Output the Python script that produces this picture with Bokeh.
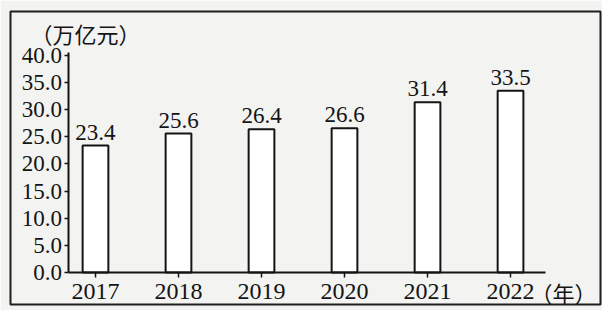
from bokeh.plotting import figure
from bokeh.models import FixedTicker, Label, Range1d, ColumnDataSource, NumeralTickFormatter
from bokeh.core.properties import value
from bokeh.embed import file_html
from bokeh.resources import INLINE

years = ["2017", "2018", "2019", "2020", "2021", "2022"]
amounts = [23.4, 25.6, 26.4, 26.6, 31.4, 33.5]
y_ticks = [0, 5, 10, 15, 20, 25, 30, 35, 40]

pos = list(range(len(years)))
src = ColumnDataSource(dict(x=pos, top=amounts, lab=[f"{v:.1f}" for v in amounts]))

INK = "#141414"
BG = "#f3f3f1"
SERIF = "Liberation Serif"
FS = "23px"

p = figure(width=602, height=310, output_backend="svg", toolbar_location=None,
           x_range=Range1d(-1.024, 6.084), y_range=Range1d(-5.90, 48.11),
           min_border_left=10, min_border_right=2, min_border_top=11, min_border_bottom=6)
p.background_fill_color = BG
p.border_fill_color = BG
p.outline_line_color = "#1e1e1e"
p.outline_line_width = 2
p.grid.grid_line_color = None

p.vbar(x="x", top="top", width=0.31, bottom=0, source=src,
       fill_color="white", line_color=INK, line_width=2)
p.text(x="x", y="top", text="lab", source=src, y_offset=-6,
       text_align="center", text_baseline="bottom",
       text_font=value(SERIF), text_font_size=FS, text_color=INK)

xa = p.xaxis[0]
xa.fixed_location = 0
xa.bounds = (-0.33, 5.42)
xa.ticker = FixedTicker(ticks=pos)
xa.major_label_overrides = {i: y for i, y in enumerate(years)}
xa.major_tick_in = 0
xa.major_tick_out = 5
xa.minor_tick_out = 0
xa.minor_tick_in = 0
xa.axis_line_width = 2
xa.axis_line_color = INK
xa.major_tick_line_color = INK
xa.major_tick_line_width = 1.5
xa.major_label_standoff = 7
xa.major_label_text_font = SERIF
xa.major_label_text_font_size = "24px"
xa.major_label_text_color = INK

ya = p.yaxis[0]
ya.fixed_location = -0.33
ya.bounds = (0, 40.5)
ya.ticker = FixedTicker(ticks=y_ticks)
ya.formatter = NumeralTickFormatter(format="0.0")
ya.major_tick_in = 0
ya.major_tick_out = 4
ya.minor_tick_out = 0
ya.minor_tick_in = 0
ya.axis_line_width = 2
ya.axis_line_color = INK
ya.major_tick_line_color = INK
ya.major_tick_line_width = 1.5
ya.major_label_standoff = 2
ya.major_label_text_font = SERIF
ya.major_label_text_font_size = FS
ya.major_label_text_color = INK

p.add_layout(Label(x=20, y=272, x_units="screen", y_units="screen", text="（万亿元）",
                   text_font="Noto Sans CJK SC", text_font_size="22px",
                   text_baseline="middle", text_color=INK))
p.add_layout(Label(x=520, y=13, x_units="screen", y_units="screen", text="（年）",
                   text_font="Noto Sans CJK SC", text_font_size="22px",
                   text_baseline="middle", text_color=INK))

open("out.html", "w").write(file_html(p, INLINE))
